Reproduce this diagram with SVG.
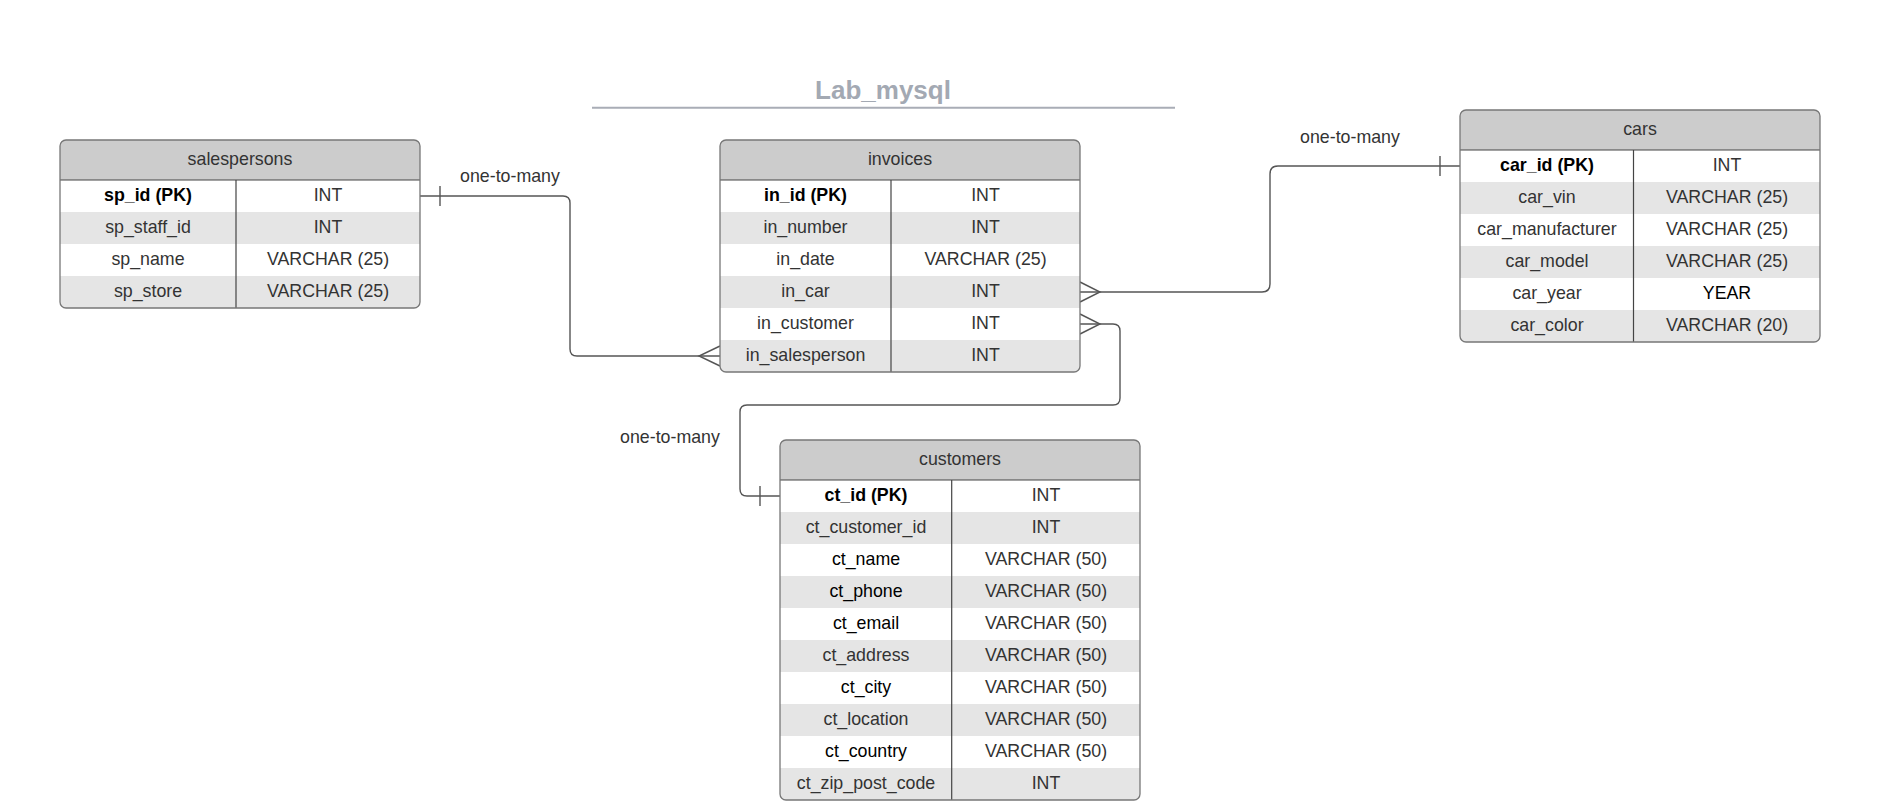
<svg xmlns="http://www.w3.org/2000/svg" width="1896" height="804" viewBox="0 0 1896 804">
<style>
text{font-family:"Liberation Sans",Arial,sans-serif;font-size:17.8px;fill:#333;text-anchor:middle}
.b{font-weight:bold;fill:#000}
.k{fill:#000}
.title{font-size:26px;font-weight:bold;fill:#a3a9b3}
.hdr{fill:#ccc}
.alt{fill:#e5e5e5}
.wht{fill:#fff}
.frame{fill:none;stroke:#777;stroke-width:1.3}
.sep{stroke:#444;stroke-width:1.2}
.conn path{fill:none;stroke:#555;stroke-width:1.4}
.t{transform:translate(0,-1.5px)}
</style>
<defs>
<clipPath id="cs"><rect x="60" y="140" width="360" height="168" rx="6"/></clipPath>
<clipPath id="ci"><rect x="720" y="140" width="360" height="232" rx="6"/></clipPath>
<clipPath id="cc"><rect x="1460" y="110" width="360" height="232" rx="6"/></clipPath>
<clipPath id="cu"><rect x="780" y="440" width="360" height="360" rx="6"/></clipPath>
</defs>
<rect width="1896" height="804" fill="#fff"/>
<g id="title">
<text class="title" x="883" y="99">Lab_mysql</text>
<line x1="592" y1="107.7" x2="1175" y2="107.7" stroke="#a9adb6" stroke-width="2"/>
</g>

<g class="conn" id="connectors">
<path d="M420,196 H563 Q570,196 570,203 V349 Q570,356 577,356 H720"/>
<path d="M440,186 V206"/>
<path d="M720,346 L699,356 L720,366"/>
<path d="M1460,166 H1278 Q1270,166 1270,174 V284 Q1270,292 1262,292 H1080"/>
<path d="M1440,156 V176"/>
<path d="M1080,282 L1100,292 L1080,302"/>
<path d="M1080,324 H1113 Q1120,324 1120,331 V398 Q1120,405 1113,405 H747 Q740,405 740,412 V489 Q740,496 747,496 H780"/>
<path d="M1080,314 L1100,324 L1080,334"/>
<path d="M760,486 V506"/>
</g>
<g id="labels">
<text x="510" y="182">one-to-many</text>
<text x="1350" y="143">one-to-many</text>
<text x="670" y="443">one-to-many</text>
</g>

<g id="salespersons">
<g clip-path="url(#cs)">
<rect class="hdr" x="60" y="140" width="360" height="40"/>
<rect class="wht" x="60" y="180" width="360" height="32"/>
<rect class="alt" x="60" y="212" width="360" height="32"/>
<rect class="wht" x="60" y="244" width="360" height="32"/>
<rect class="alt" x="60" y="276" width="360" height="32"/>
</g>
<line class="sep" x1="60" y1="180" x2="420" y2="180"/>
<line class="sep" x1="236" y1="180" x2="236" y2="308"/>
<rect class="frame" x="60" y="140" width="360" height="168" rx="6"/>
<g class="t">
<text x="240" y="166">salespersons</text>
<text class="b" x="148" y="202">sp_id (PK)</text><text x="328" y="202">INT</text>
<text x="148" y="234">sp_staff_id</text><text x="328" y="234">INT</text>
<text x="148" y="266">sp_name</text><text x="328" y="266">VARCHAR (25)</text>
<text x="148" y="298">sp_store</text><text x="328" y="298">VARCHAR (25)</text>
</g>
</g>

<g id="invoices">
<g clip-path="url(#ci)">
<rect class="hdr" x="720" y="140" width="360" height="40"/>
<rect class="wht" x="720" y="180" width="360" height="32"/>
<rect class="alt" x="720" y="212" width="360" height="32"/>
<rect class="wht" x="720" y="244" width="360" height="32"/>
<rect class="alt" x="720" y="276" width="360" height="32"/>
<rect class="wht" x="720" y="308" width="360" height="32"/>
<rect class="alt" x="720" y="340" width="360" height="32"/>
</g>
<line class="sep" x1="720" y1="180" x2="1080" y2="180"/>
<line class="sep" x1="891" y1="180" x2="891" y2="372"/>
<rect class="frame" x="720" y="140" width="360" height="232" rx="6"/>
<g class="t">
<text x="900" y="166">invoices</text>
<text class="b" x="805.5" y="202">in_id (PK)</text><text x="985.5" y="202">INT</text>
<text x="805.5" y="234">in_number</text><text x="985.5" y="234">INT</text>
<text x="805.5" y="266">in_date</text><text x="985.5" y="266">VARCHAR (25)</text>
<text x="805.5" y="298">in_car</text><text x="985.5" y="298">INT</text>
<text x="805.5" y="330">in_customer</text><text x="985.5" y="330">INT</text>
<text x="805.5" y="362">in_salesperson</text><text x="985.5" y="362">INT</text>
</g>
</g>

<g id="cars">
<g clip-path="url(#cc)">
<rect class="hdr" x="1460" y="110" width="360" height="40"/>
<rect class="wht" x="1460" y="150" width="360" height="32"/>
<rect class="alt" x="1460" y="182" width="360" height="32"/>
<rect class="wht" x="1460" y="214" width="360" height="32"/>
<rect class="alt" x="1460" y="246" width="360" height="32"/>
<rect class="wht" x="1460" y="278" width="360" height="32"/>
<rect class="alt" x="1460" y="310" width="360" height="32"/>
</g>
<line class="sep" x1="1460" y1="150" x2="1820" y2="150"/>
<line class="sep" x1="1633.5" y1="150" x2="1633.5" y2="342"/>
<rect class="frame" x="1460" y="110" width="360" height="232" rx="6"/>
<g class="t">
<text x="1640" y="136">cars</text>
<text class="b" x="1547" y="172">car_id (PK)</text><text x="1727" y="172">INT</text>
<text x="1547" y="204">car_vin</text><text x="1727" y="204">VARCHAR (25)</text>
<text x="1547" y="236">car_manufacturer</text><text x="1727" y="236">VARCHAR (25)</text>
<text x="1547" y="268">car_model</text><text x="1727" y="268">VARCHAR (25)</text>
<text x="1547" y="300">car_year</text><text class="k" x="1727" y="300">YEAR</text>
<text x="1547" y="332">car_color</text><text x="1727" y="332">VARCHAR (20)</text>
</g>
</g>

<g id="customers">
<g clip-path="url(#cu)">
<rect class="hdr" x="780" y="440" width="360" height="40"/>
<rect class="wht" x="780" y="480" width="360" height="32"/>
<rect class="alt" x="780" y="512" width="360" height="32"/>
<rect class="wht" x="780" y="544" width="360" height="32"/>
<rect class="alt" x="780" y="576" width="360" height="32"/>
<rect class="wht" x="780" y="608" width="360" height="32"/>
<rect class="alt" x="780" y="640" width="360" height="32"/>
<rect class="wht" x="780" y="672" width="360" height="32"/>
<rect class="alt" x="780" y="704" width="360" height="32"/>
<rect class="wht" x="780" y="736" width="360" height="32"/>
<rect class="alt" x="780" y="768" width="360" height="32"/>
</g>
<line class="sep" x1="780" y1="480" x2="1140" y2="480"/>
<line class="sep" x1="951.7" y1="480" x2="951.7" y2="800"/>
<rect class="frame" x="780" y="440" width="360" height="360" rx="6"/>
<g class="t">
<text x="960" y="466">customers</text>
<text class="b" x="866" y="502">ct_id (PK)</text><text x="1046" y="502">INT</text>
<text x="866" y="534">ct_customer_id</text><text x="1046" y="534">INT</text>
<text class="k" x="866" y="566">ct_name</text><text x="1046" y="566">VARCHAR (50)</text>
<text class="k" x="866" y="598">ct_phone</text><text x="1046" y="598">VARCHAR (50)</text>
<text class="k" x="866" y="630">ct_email</text><text x="1046" y="630">VARCHAR (50)</text>
<text x="866" y="662">ct_address</text><text x="1046" y="662">VARCHAR (50)</text>
<text class="k" x="866" y="694">ct_city</text><text x="1046" y="694">VARCHAR (50)</text>
<text x="866" y="726">ct_location</text><text x="1046" y="726">VARCHAR (50)</text>
<text class="k" x="866" y="758">ct_country</text><text x="1046" y="758">VARCHAR (50)</text>
<text x="866" y="790">ct_zip_post_code</text><text x="1046" y="790">INT</text>
</g>
</g>
</svg>
